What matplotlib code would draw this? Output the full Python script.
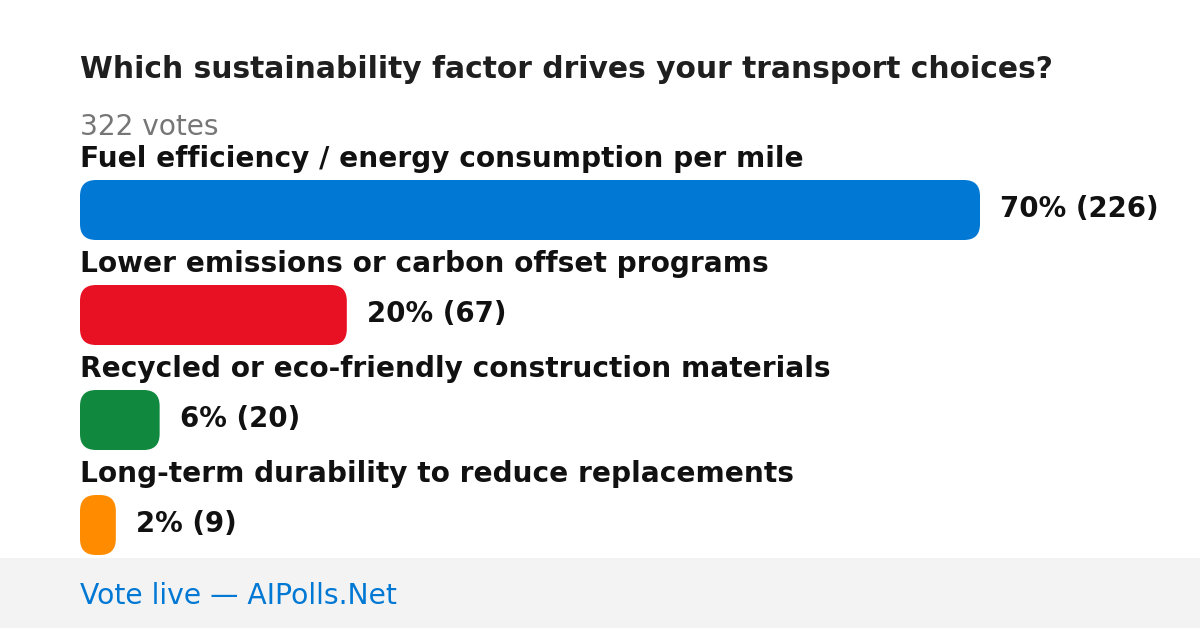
import matplotlib
matplotlib.use("Agg")
import matplotlib.pyplot as plt
from matplotlib.patches import FancyBboxPatch, Rectangle

title = "Which sustainability factor drives your transport choices?"
total_votes = 322
footer = "Vote live \u2014 AIPolls.Net"

options = [
    "Fuel efficiency / energy consumption per mile",
    "Lower emissions or carbon offset programs",
    "Recycled or eco-friendly construction materials",
    "Long-term durability to reduce replacements",
]
votes = [226, 67, 20, 9]
percents = [70, 20, 6, 2]
colors = ["#0078D4", "#E81123", "#10893E", "#FF8C00"]

W, H = 1200, 628
PT = 0.72  # points per pixel at dpi 100

fig = plt.figure(figsize=(W / 100, H / 100), dpi=100)
fig.patch.set_facecolor("white")

# footer band
fig.patches.append(Rectangle((0, 0), 1, 70 / H, transform=fig.transFigure,
                             facecolor="#F3F3F3", edgecolor="none", zorder=0))


def px_text(x, y, s, **kw):
    fig.text(x / W, 1 - y / H, s, va="baseline", ha="left", **kw)


px_text(80, 78, title, fontsize=29.8 * PT, fontweight="bold", color="#1F1F1F")
px_text(80, 135, f"{total_votes} votes", fontsize=28 * PT, color="#767676")
px_text(80, 604, footer, fontsize=28.2 * PT, color="#0078D4")

# bar axes: x in votes, y in pixels
scale = 900 / max(votes)  # pixels per vote
ax = fig.add_axes([0, 0, 1, 1])
ax.set_xlim(-80 / scale, (W - 80) / scale)
ax.set_ylim(H, 0)
ax.axis("off")

bar_h = 60
radius = 16
for i, (lab, v, p, c) in enumerate(zip(options, votes, percents, colors)):
    top = 180 + 105 * i
    ax.add_patch(FancyBboxPatch((0, top), v, bar_h,
                                boxstyle=f"round,pad=0,rounding_size={radius / scale}",
                                mutation_aspect=scale, facecolor=c, edgecolor="none"))
    ax.text(0, top - 13, lab, fontsize=28 * PT, fontweight="bold",
            color="#111111", va="baseline", ha="left")
    ax.annotate(f"{p}% ({v})", xy=(v, top + bar_h / 2 + 7),
                xytext=(20 * PT, 0), textcoords="offset points",
                fontsize=27.6 * PT, fontweight="bold", color="#111111",
                va="baseline", ha="left")

fig.savefig("out.png", dpi=100)
